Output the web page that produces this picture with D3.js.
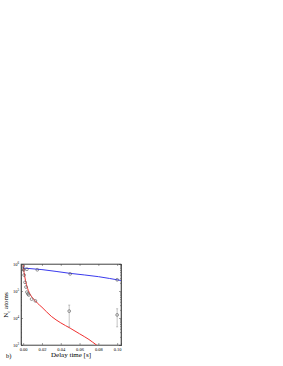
<!DOCTYPE html>
<html>
<head>
<meta charset="utf-8">
<script src="https://cdn.jsdelivr.net/npm/d3@7"></script>
<style>
  body { margin: 0; background: #fff; }
  svg { display: block; }
  .tick text { font-family: "Liberation Serif", serif; }
</style>
</head>
<body>
<svg id="chart" width="283" height="366"></svg>
<script>
// values (x in s, y in atoms)
const xTicks = [0, 0.02, 0.04, 0.06, 0.08, 0.10];
const yTicks = [1e3, 1e4, 1e5, 1e6];

const bluePtsX = [0, 0.004, 0.015, 0.05, 0.10];
const bluePtsY = [6.5e5, 6.4e5, 6.1e5, 4.3e5, 2.6e5];

const blueFitX = [0, 0.02, 0.05, 0.08, 0.104];
const blueFitY = [7.1e5, 6.2e5, 4.5e5, 3.4e5, 2.45e5];

const redPtsX = [0, 0.0005, 0.001, 0.002, 0.003, 0.004, 0.005, 0.006, 0.009, 0.013];
const redPtsY = [8.5e5, 6.0e5, 3.9e5, 2.1e5, 1.4e5, 9.1e4, 7.8e4, 7.1e4, 5.0e4, 4.3e4];

const redFitX = [0, 0.001, 0.002, 0.004, 0.007, 0.01, 0.015, 0.02, 0.03, 0.04, 0.05, 0.06, 0.07, 0.078, 0.082];
const redFitY = [9.0e5, 4.8e5, 3.0e5, 1.5e5, 8.0e4, 5.6e4, 3.6e4, 2.5e4, 1.15e4, 6.6e3, 4.2e3, 2.6e3, 1.6e3, 1.0e3, 0.8e3];

const blackPtsX = [0.049, 0.10];
const blackPtsY = [1.8e4, 1.3e4];
const blackLo = [4.7e3, 4.7e3];
const blackHi = [3.0e4, 2.2e4];

const svg = d3.select("#chart");
const pl = 21, pr = 121, pt0 = 264, pb = 345;

const x = d3.scaleLinear().domain([-0.0023, 0.1041]).range([pl, pr]);
const y = d3.scaleLog().domain([1e3, 1e6]).range([pb, pt0]);

const g = svg.append("g");

// clip for curves
svg.append("clipPath").attr("id", "clip")
  .append("rect").attr("x", pl).attr("y", pt0).attr("width", pr - pl).attr("height", pb - pt0);

// axes with inward ticks
const xAxis = d3.axisBottom(x).tickValues(xTicks).tickSize(-2).tickPadding(3)
  .tickFormat(d3.format(".2f"));
const gx = g.append("g").attr("transform", `translate(0,${pb})`).call(xAxis);
gx.selectAll("text").attr("font-size", 4.5);

g.append("g").attr("transform", `translate(0,${pt0})`)
  .call(d3.axisTop(x).tickValues(xTicks).tickSize(-2).tickFormat(""));

const yMinor = [];
[1e3, 1e4, 1e5].forEach(b => { for (let k = 2; k < 10; k++) yMinor.push(b * k); });

g.append("g").attr("transform", `translate(${pl},0)`)
  .call(d3.axisLeft(y).tickValues(yTicks).tickSize(-2).tickFormat(""));
g.append("g").attr("transform", `translate(${pl},0)`)
  .call(d3.axisLeft(y).tickValues(yMinor).tickSize(-1).tickFormat(""));
g.append("g").attr("transform", `translate(${pr},0)`)
  .call(d3.axisRight(y).tickValues(yTicks).tickSize(-2).tickFormat(""));
g.append("g").attr("transform", `translate(${pr},0)`)
  .call(d3.axisRight(y).tickValues(yMinor).tickSize(-1).tickFormat(""));

g.selectAll(".domain").attr("stroke", "#444").attr("stroke-width", 0.6);
g.selectAll(".tick line").attr("stroke", "#444").attr("stroke-width", 0.5);

// y tick labels as 10^n
yTicks.forEach(v => {
  const t = g.append("text").attr("x", pl - 2).attr("y", y(v) + 1.5)
    .attr("text-anchor", "end").attr("font-family", "Liberation Serif, serif").attr("font-size", 4.5);
  t.append("tspan").text("10");
  t.append("tspan").attr("dy", -2).attr("font-size", 3.2).text(Math.round(Math.log10(v)));
});

// frame
g.append("rect").attr("x", pl).attr("y", pt0).attr("width", pr - pl).attr("height", pb - pt0)
  .attr("fill", "none").attr("stroke", "#444").attr("stroke-width", 0.6);

const line = d3.line().x(d => x(d[0])).y(d => y(d[1])).curve(d3.curveMonotoneX);

const plot = g.append("g").attr("clip-path", "url(#clip)");

plot.append("path").datum(redFitX.map((v, i) => [v, redFitY[i]]))
  .attr("d", line).attr("fill", "none").attr("stroke", "#f03030").attr("stroke-width", 1);

plot.append("path").datum(blueFitX.map((v, i) => [v, blueFitY[i]]))
  .attr("d", line).attr("fill", "none").attr("stroke", "#3a3aee").attr("stroke-width", 1);

// black points with error bars
blackPtsX.forEach((v, i) => {
  g.append("line").attr("x1", x(v)).attr("x2", x(v)).attr("y1", y(blackLo[i])).attr("y2", y(blackHi[i]))
    .attr("stroke", "#888").attr("stroke-width", 0.5);
  [blackLo[i], blackHi[i]].forEach(e => g.append("line")
    .attr("x1", x(v) - 1).attr("x2", x(v) + 1).attr("y1", y(e)).attr("y2", y(e))
    .attr("stroke", "#888").attr("stroke-width", 0.5));
});

const pt = (xs, ys) => g.append("g").selectAll("circle").data(xs.map((v, i) => [v, ys[i]]))
  .join("circle").attr("cx", d => x(d[0])).attr("cy", d => y(d[1])).attr("r", 1.4)
  .attr("fill", "none").attr("stroke", "#555").attr("stroke-width", 0.6);

pt(redPtsX, redPtsY);
pt(bluePtsX, bluePtsY);
pt(blackPtsX, blackPtsY);

// labels
g.append("text").attr("x", 71).attr("y", 357).attr("text-anchor", "middle")
  .attr("font-family", "Liberation Serif, serif").attr("font-size", 7).text("Delay time [s]");

const yl = g.append("text").attr("transform", `translate(8,305) rotate(-90)`).attr("text-anchor", "middle")
  .attr("font-family", "Liberation Serif, serif").attr("font-size", 7);
yl.append("tspan").text("N");
yl.append("tspan").attr("font-size", 4.5).attr("dy", 1.5).text("c");
yl.append("tspan").attr("dy", -1.5).text(" atoms");

g.append("text").attr("x", 6).attr("y", 358)
  .attr("font-family", "Liberation Serif, serif").attr("font-size", 6.5).text("b)");
</script>
</body>
</html>
